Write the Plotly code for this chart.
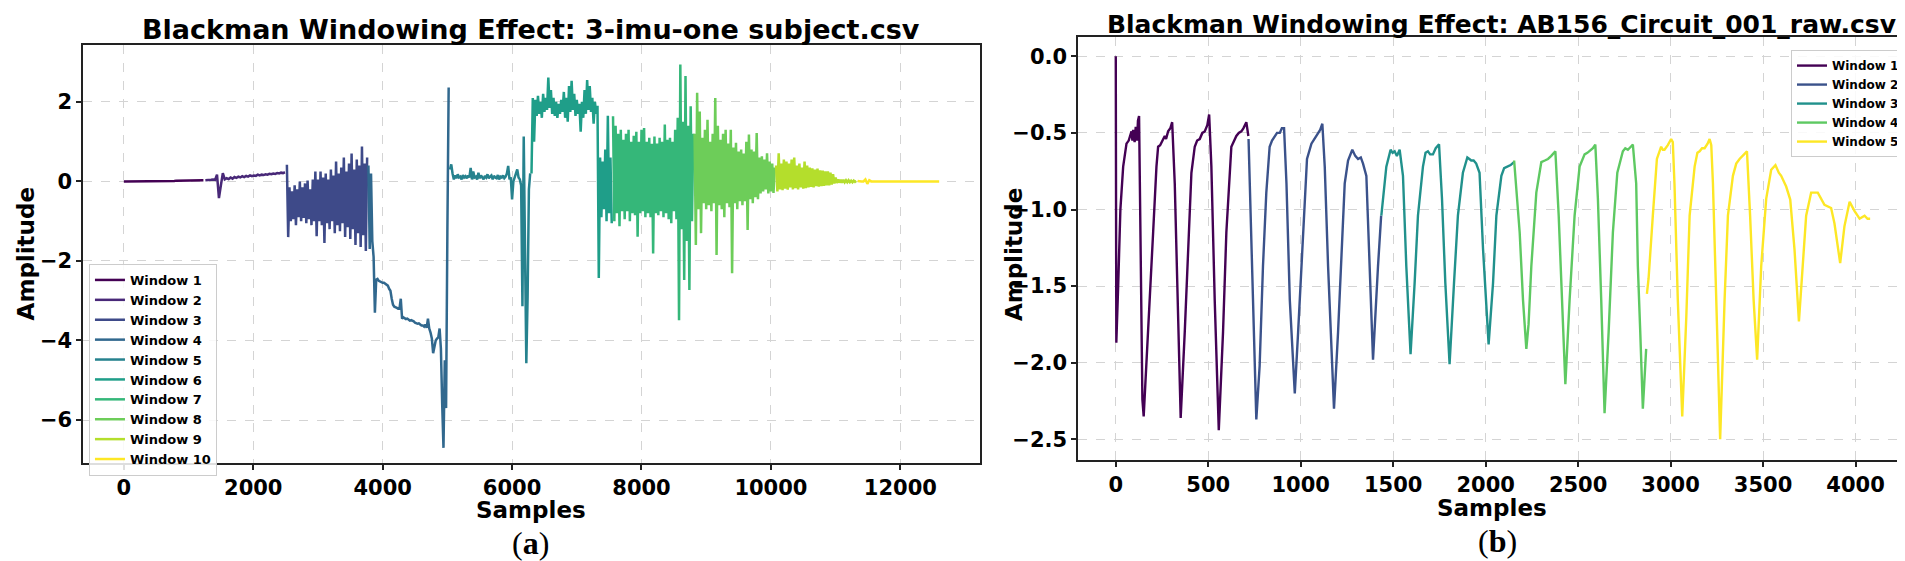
import plotly.graph_objects as go

# ---- panel (a): 3-imu-one subject.csv, 10 windows of 1260 samples ----
imu_starts = [0, 1260, 2520, 3780, 5040, 6300, 7560, 8820, 10080, 11340]
imu_steps = [30, 30, 20, 20, 20, 20, 20, 20, 20, 30]

imu_w1 = [0.00, 0.00, 0.00, 0.00, 0.00, 0.00, 0.00, 0.00, 0.00, 0.00,
          0.00, 0.00, 0.00, 0.00, 0.00, 0.01, 0.01, 0.01, 0.01, 0.01,
          0.01, 0.01, 0.01, 0.01, 0.01, 0.01, 0.01, 0.02, 0.02, 0.02,
          0.02, 0.02, 0.02, 0.02, 0.02, 0.02, 0.02, 0.03, 0.03, 0.03,
          0.03, 0.03]
imu_w2 = [0.03, 0.03, 0.04, 0.04, 0.05, 0.04, 0.17, -0.42, -0.10, 0.21,
          0.05, 0.08, 0.06, 0.10, 0.07, 0.11, 0.09, 0.12, 0.10, 0.13,
          0.11, 0.14, 0.12, 0.15, 0.13, 0.15, 0.14, 0.17, 0.15, 0.17,
          0.16, 0.18, 0.17, 0.19, 0.18, 0.20, 0.19, 0.21, 0.20, 0.22,
          0.21, 0.23]
imu_w3 = [0.42, -1.40, -0.15, -1.00, -0.25, -0.95, -0.10, -1.10, -0.20, -0.90,
          0.00, -1.00, -0.15, -0.92, -0.05, -1.05, 0.02, -0.95, -0.20, -1.10,
          0.05, -1.00, 0.25, -1.38, 0.05, -1.00, 0.25, -1.10, 0.10, -1.55,
          0.20, -1.05, 0.05, -1.20, 0.30, -1.00, 0.15, -1.30, 0.50, -1.10,
          0.20, -1.25, 0.35, -1.05, 0.60, -1.40, 0.25, -1.15, 0.45, -1.45,
          0.70, -1.20, 0.30, -1.60, 0.55, -1.30, 0.40, -1.65, 0.88, -1.35,
          0.45, -1.75, 0.60]
imu_w4 = [0.40, -1.70, 0.20, -1.50, -1.90, -3.30, -2.47, -2.45, -2.50, -2.52,
          -2.54, -2.55, -2.55, -2.57, -2.58, -2.62, -2.70, -2.75, -2.95, -3.10,
          -3.15, -3.16, -3.18, -3.20, -3.20, -2.95, -3.45, -3.42, -3.44, -3.46,
          -3.45, -3.48, -3.50, -3.49, -3.50, -3.52, -3.55, -3.56, -3.58, -3.57,
          -3.60, -3.62, -3.62, -3.65, -3.60, -3.68, -3.45, -3.70, -3.80, -3.95,
          -4.32, -4.10, -4.00, -3.95, -3.92, -3.70, -4.20, -5.60, -6.70, -4.50,
          -5.70, -1.30, 2.36]
imu_w5 = [0.30, 0.43, 0.20, 0.05, 0.15, 0.08, 0.18, 0.10, 0.12, 0.05,
          0.16, 0.10, 0.13, 0.08, 0.15, 0.10, 0.34, 0.05, 0.25, 0.10,
          0.12, 0.05, 0.22, 0.08, 0.15, 0.10, 0.05, 0.14, 0.10, 0.18,
          0.08, 0.12, 0.15, 0.05, 0.14, 0.10, 0.08, 0.16, 0.05, 0.12,
          0.10, 0.15, 0.08, 0.12, 0.20, 0.39, 0.05, 0.10, -0.45, 0.00,
          0.10, 0.25, 0.30, 0.10, 0.05, -0.10, -3.14, 1.13, -1.50, -4.57,
          -2.90, -0.20, 0.20]
imu_w6 = [0.20, 2.10, 1.00, 2.05, 1.65, 2.15, 1.70, 2.00, 1.60, 2.20,
          1.75, 2.10, 1.80, 2.61, 1.85, 2.30, 1.70, 2.10, 1.65, 2.00,
          1.60, 1.95, 1.70, 2.05, 1.75, 2.25, 1.60, 2.10, 1.50, 2.40,
          1.75, 2.53, 1.80, 2.20, 1.65, 2.05, 1.70, 1.95, 1.25, 2.00,
          1.60, 2.30, 1.70, 2.55, 1.80, 2.40, 1.75, 2.10, 1.45, 2.00,
          1.70, 1.90, -2.43, 0.60, -0.90, 0.50, -0.70, 0.80, -1.00, 1.65,
          -0.80, 0.60, -1.05]
imu_w7 = [1.64, -1.00, 1.40, -0.80, 1.20, -1.13, 1.30, -0.75, 1.05, -0.95,
          1.20, -0.75, 1.30, -1.00, 1.00, -0.80, 1.15, -0.85, 1.25, -1.39,
          1.00, -0.80, 1.30, -0.75, 1.34, -0.90, 1.00, -0.80, 1.10, -0.90,
          0.95, -1.81, 1.13, -0.80, 0.95, -0.85, 1.10, -0.75, 1.00, -0.90,
          1.43, -0.80, 1.05, -0.95, 1.10, -1.05, 1.00, -0.75, 1.30, -0.95,
          1.60, -3.49, 2.94, -1.20, 1.50, -2.48, 2.65, -1.50, 1.40, -2.73,
          1.89, -1.00, 1.20]
imu_w8 = [1.20, -1.60, 2.23, -0.70, 1.76, -1.30, 1.10, -0.55, 1.30, -0.70,
          1.55, -0.60, 1.00, -0.75, 1.20, -0.55, 2.10, -1.85, 1.40, -0.60,
          1.05, -0.70, 1.20, -0.90, 1.30, -0.55, 0.95, -0.65, 1.30, -2.31,
          0.85, -0.55, 0.97, -0.70, 0.75, -0.50, 0.80, -0.60, 0.70, -0.50,
          1.00, -1.22, 1.18, -0.45, 0.80, -0.55, 0.75, -0.40, 1.22, -0.45,
          0.60, -0.30, 0.63, -0.25, 0.55, -0.20, 0.71, -0.30, 0.50, -0.25,
          0.45, -0.29, 0.35]
imu_w9 = [0.40, -0.25, 0.71, -0.20, 0.45, -0.22, 0.55, -0.18, 0.50, -0.21,
          0.45, -0.15, 0.55, -0.20, 0.60, -0.17, 0.40, -0.20, 0.45, -0.15,
          0.35, -0.18, 0.50, -0.17, 0.40, -0.15, 0.35, -0.14, 0.33, -0.15,
          0.30, -0.12, 0.32, -0.13, 0.28, -0.12, 0.27, -0.11, 0.25, -0.10,
          0.25, -0.10, 0.22, -0.08, 0.18, -0.05, 0.10, -0.04, 0.05, -0.03,
          0.04, -0.03, 0.04, -0.02, 0.03, -0.02, 0.03, -0.02, 0.02, -0.02,
          0.02, -0.01, 0.01]
imu_w10 = [0.01, 0.00, 0.00, 0.00, 0.05, -0.06, 0.03, 0.00, 0.00, 0.00,
           0.00, 0.00, 0.00, 0.00, 0.00, 0.00, 0.00, 0.00, 0.00, 0.00,
           0.00, 0.00, 0.00, 0.00, 0.00, 0.00, 0.00, 0.00, 0.00, 0.00,
           0.00, 0.00, 0.00, 0.00, 0.00, 0.00, 0.00, 0.00, 0.00, 0.00,
           0.00, 0.00, 0.00]
imu_windows = [imu_w1, imu_w2, imu_w3, imu_w4, imu_w5,
               imu_w6, imu_w7, imu_w8, imu_w9, imu_w10]
imu_xticks = [0, 2000, 4000, 6000, 8000, 10000, 12000]
imu_yticks = [-6, -4, -2, 0, 2]

# ---- panel (b): AB156_Circuit_001_raw.csv, 5 windows ----
ab_w1_x = [0, 3, 13, 25, 40, 58, 70, 76, 85, 90, 94, 102, 108, 115, 120, 126, 133, 144, 151, 166,
           184, 202, 220, 229, 240, 256, 265, 272, 283, 295, 305, 319, 337, 351, 373, 391, 409, 427, 440, 454,
           468, 481, 495, 505, 517, 535, 557, 580, 598, 625, 640, 652, 665, 679, 690, 706, 717]
ab_w1_y = [0.0, -1.87, -1.5, -1.0, -0.72, -0.57, -0.55, -0.53, -0.49, -0.55, -0.48, -0.56, -0.46, -0.55, -0.42, -0.39, -1.15, -2.24, -2.35, -2.02,
           -1.59, -1.15, -0.72, -0.59, -0.58, -0.54, -0.52, -0.54, -0.49, -0.47, -0.43, -0.83, -1.80, -2.36, -1.80, -1.26, -0.76, -0.59, -0.55, -0.54,
           -0.50, -0.49, -0.45, -0.38, -0.72, -1.59, -2.44, -1.80, -1.15, -0.59, -0.55, -0.52, -0.50, -0.49, -0.47, -0.43, -0.52]
ab_w2_x = [718, 733, 746, 760, 778, 796, 814, 832, 845, 860, 872, 887, 898, 910, 923, 941, 968, 986, 1013, 1034,
           1058, 1075, 1094, 1105, 1117, 1130, 1148, 1180, 1202, 1220, 1238, 1256, 1279, 1295, 1310, 1325, 1337, 1355, 1373, 1391,
           1418, 1435]
ab_w2_y = [-0.54, -1.15, -1.80, -2.37, -2.02, -1.37, -0.89, -0.59, -0.55, -0.52, -0.50, -0.50, -0.47, -0.47, -0.83, -1.59, -2.20, -1.80, -1.15, -0.67,
           -0.57, -0.54, -0.50, -0.48, -0.44, -0.72, -1.37, -2.30, -1.80, -1.26, -0.83, -0.68, -0.61, -0.65, -0.67, -0.66, -0.70, -0.78, -1.37, -1.98,
           -1.37, -1.04]
ab_w3_x = [1436, 1463, 1486, 1497, 1508, 1520, 1535, 1553, 1571, 1594, 1616, 1634, 1661, 1675, 1688, 1700, 1715, 1730, 1748, 1764,
           1782, 1805, 1829, 1850, 1877, 1901, 1912, 1922, 1935, 1949, 1967, 1986, 2016, 2040, 2058, 2085, 2100, 2121, 2135, 2153]
ab_w3_y = [-1.04, -0.72, -0.61, -0.63, -0.62, -0.65, -0.61, -0.78, -1.37, -1.945, -1.48, -1.04, -0.72, -0.63, -0.62, -0.64, -0.64, -0.60, -0.575, -0.93,
           -1.48, -2.01, -1.48, -1.04, -0.76, -0.66, -0.67, -0.68, -0.68, -0.70, -0.76, -1.26, -1.88, -1.48, -1.04, -0.78, -0.73, -0.72, -0.71, -0.69]
ab_w4_x = [2154, 2170, 2184, 2202, 2220, 2232, 2247, 2274, 2301, 2320, 2337, 2355, 2370, 2377, 2395, 2413, 2431, 2454, 2481, 2508,
           2535, 2550, 2568, 2580, 2593, 2607, 2625, 2643, 2665, 2688, 2712, 2742, 2755, 2769, 2785, 2796, 2814, 2823, 2836, 2850,
           2868]
ab_w4_y = [-0.68, -0.95, -1.15, -1.59, -1.91, -1.75, -1.37, -0.89, -0.69, -0.68, -0.67, -0.65, -0.63, -0.62, -1.04, -1.59, -2.14, -1.59, -1.04, -0.72,
           -0.64, -0.63, -0.61, -0.60, -0.576, -0.93, -1.59, -2.33, -1.80, -1.15, -0.76, -0.62, -0.60, -0.61, -0.59, -0.576, -0.83, -1.37, -1.80, -2.30,
           -1.91]
ab_w5_x = [2872, 2881, 2904, 2926, 2949, 2958, 2967, 2985, 3003, 3012, 3021, 3039, 3063, 3085, 3103, 3130, 3145, 3157, 3170, 3184,
           3200, 3211, 3220, 3229, 3247, 3268, 3292, 3310, 3337, 3355, 3373, 3390, 3413, 3430, 3449, 3468, 3490, 3517, 3544, 3567,
           3585, 3598, 3625, 3647, 3670, 3694, 3715, 3733, 3760, 3796, 3832, 3868, 3886, 3917, 3940, 3968, 3995, 4022, 4035, 4049,
           4065, 4079]
ab_w5_y = [-1.55, -1.45, -1.04, -0.67, -0.59, -0.61, -0.61, -0.58, -0.54, -0.56, -0.83, -1.59, -2.35, -1.70, -1.04, -0.72, -0.63, -0.62, -0.60, -0.60,
           -0.57, -0.54, -0.58, -0.83, -1.59, -2.50, -1.59, -1.04, -0.78, -0.70, -0.67, -0.65, -0.62, -1.04, -1.59, -1.98, -1.37, -0.93, -0.74, -0.71,
           -0.76, -0.78, -0.85, -0.935, -1.26, -1.73, -1.37, -1.04, -0.89, -0.89, -0.97, -0.99, -1.09, -1.35, -1.11, -0.95, -1.01, -1.06, -1.05, -1.04,
           -1.06, -1.06]
ab_windows = [(ab_w1_x, ab_w1_y), (ab_w2_x, ab_w2_y), (ab_w3_x, ab_w3_y),
              (ab_w4_x, ab_w4_y), (ab_w5_x, ab_w5_y)]
ab_xticks = [0, 500, 1000, 1500, 2000, 2500, 3000, 3500, 4000]
ab_yticks = [-2.5, -2.0, -1.5, -1.0, -0.5, 0.0]

# viridis samples, as matplotlib gives for 10 and 5 windows
imu_colors = ['#440154', '#482878', '#3e4a89', '#31688e', '#26828e',
              '#1f9e89', '#35b779', '#6dcd59', '#b4de2c', '#fde725']
ab_colors = ['#440154', '#3b528b', '#21918c', '#5ec962', '#fde725']

FONT = 'DejaVu Sans'

fig = go.Figure()

for i, vals in enumerate(imu_windows):
    xs = [imu_starts[i] + imu_steps[i] * k for k in range(len(vals))]
    fig.add_trace(go.Scatter(x=xs, y=vals, mode='lines', name=f'Window {i + 1}',
                             line=dict(color=imu_colors[i], width=2.5),
                             xaxis='x', yaxis='y', legend='legend'))

for i, (xs, ys) in enumerate(ab_windows):
    fig.add_trace(go.Scatter(x=xs, y=ys, mode='lines', name=f'Window {i + 1}',
                             line=dict(color=ab_colors[i], width=2.4),
                             xaxis='x2', yaxis='y2', legend='legend2'))

axis_common = dict(showgrid=True, gridcolor='#d4d4d4', griddash='dash', gridwidth=1,
                   showline=True, linecolor='#222222', linewidth=1.5, mirror=True,
                   ticks='outside', ticklen=5, tickwidth=1.5, tickcolor='#222222',
                   zeroline=False, automargin=False,
                   tickfont=dict(family=FONT, size=21, weight='bold', color='black'))

fig.update_layout(
    width=1905, height=561,
    margin=dict(l=0, r=0, t=0, b=0),
    paper_bgcolor='white', plot_bgcolor='white',
    xaxis=dict(domain=[0.0394, 0.5102], range=[-630, 13230], anchor='y',
               tickvals=imu_xticks, ticktext=[str(v) for v in imu_xticks], **axis_common),
    yaxis=dict(domain=[0.189, 0.934], range=[-7.08, 3.43], anchor='x',
               tickvals=imu_yticks, **axis_common),
    xaxis2=dict(domain=[0.5617, 0.9974], range=[-204, 4284], anchor='y2',
                tickvals=ab_xticks, ticktext=[str(v) for v in ab_xticks], **axis_common),
    yaxis2=dict(domain=[0.1943, 0.948], range=[-2.635, 0.125], anchor='x2',
                tickvals=ab_yticks, tickformat='.1f', **axis_common),
    legend=dict(x=0.0425, y=0.5437, xanchor='left', yanchor='top',
                bgcolor='rgba(255,255,255,0.85)', bordercolor='#cccccc', borderwidth=1,
                font=dict(family=FONT, size=13, weight='bold', color='black'),
                itemwidth=30, tracegroupgap=0),
    legend2=dict(x=0.9958, y=0.925, xanchor='right', yanchor='top',
                 bgcolor='rgba(255,255,255,0.85)', bordercolor='#cccccc', borderwidth=1,
                 font=dict(family=FONT, size=12, weight='bold', color='black'),
                 itemwidth=30, tracegroupgap=0),
)

label_font = dict(family=FONT, size=23, weight='bold', color='black')
tag_font = dict(family='Liberation Serif', size=32, color='black')

notes = [
    dict(x=0.2745, y=0.961, text='Blackman Windowing Effect: 3-imu-one subject.csv',
         font=dict(family=FONT, size=27, weight='bold', color='black')),
    dict(x=0.7840, y=0.970, text='Blackman Windowing Effect: AB156_Circuit_001_raw.csv',
         font=dict(family=FONT, size=25, weight='bold', color='black')),
    dict(x=0.2745, y=0.106, text='Samples', font=label_font),
    dict(x=0.7790, y=0.108, text='Samples', font=label_font),
    dict(x=0.0095, y=0.561, text='Amplitude', font=label_font, textangle=-90),
    dict(x=0.528, y=0.561, text='Amplitude', font=label_font, textangle=-90),
    dict(x=0.2745, y=0.046, text='(<b>a</b>)', font=tag_font),
    dict(x=0.7820, y=0.050, text='(<b>b</b>)', font=tag_font),
]
for n in notes:
    fig.add_annotation(xref='paper', yref='paper', showarrow=False,
                       xanchor='center', yanchor='middle', **n)

fig.write_html("out.html")
